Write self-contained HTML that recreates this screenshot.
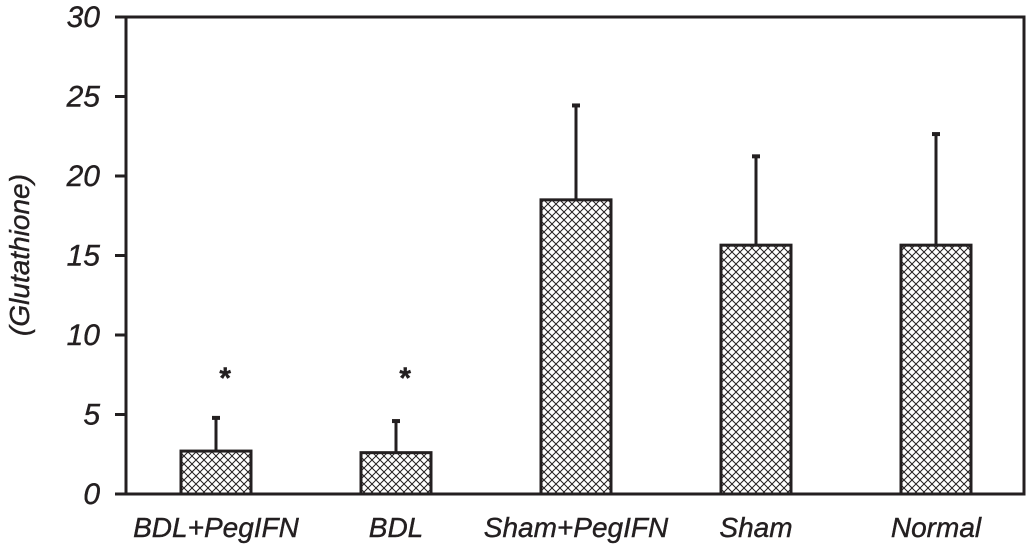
<!DOCTYPE html>
<html><head><meta charset="utf-8"><style>
html,body{margin:0;padding:0;background:#fff;}
svg text{font-family:"Liberation Sans",sans-serif;font-style:italic;fill:#231f20;stroke:#231f20;stroke-width:0.4;}
</style></head><body>
<svg id="chart" width="1029" height="547" viewBox="0 0 1029 547" xmlns="http://www.w3.org/2000/svg">
<defs>
<pattern id="hatch" patternUnits="userSpaceOnUse" width="8" height="8">
<path d="M0,0 L8,8 M8,0 L0,8" stroke="#231f20" stroke-width="1"/>
</pattern>
</defs>
<g id="plot"></g>
</svg>
<script>
const categories = ["BDL+PegIFN","BDL","Sham+PegIFN","Sham","Normal"];
const values = [2.7, 2.6, 18.5, 15.65, 15.65];
const errors = [2.15, 2.05, 6.0, 5.65, 7.05];
const significant = [true, true, false, false, false];
const yTicks = [0,5,10,15,20,25,30];

const NS = "http://www.w3.org/2000/svg";
const g = document.getElementById('plot');
const L=126, R=1024, T=17, B=494, yMax=30;
const band = 180, barW = 70;
function y(v){ return B - (v/yMax)*(B-T); }
function xc(i){ return L + band*(i+0.5); }
function mk(tag, attrs, parent){ const e=document.createElementNS(NS,tag); for(const k in attrs) e.setAttribute(k,attrs[k]); (parent||g).appendChild(e); return e; }

const frame = mk('rect',{x:L,y:T,width:R-L,height:B-T,fill:'none',stroke:'#231f20','stroke-width':3});



yTicks.forEach(v=>{
  const t = mk('line',{x1:L-11,x2:L,y1:y(v),y2:y(v),stroke:'#231f20','stroke-width':3});
  
  
  const lb = mk('text',{x:100,y:y(v)+10,'text-anchor':'end','font-size':30});
  lb.textContent = v;
  
  
});

categories.forEach((c,i)=>{
  const cx = xc(i);
  const top = y(values[i]);
  const eTop = y(values[i]+errors[i]);
  const el = mk('line',{x1:cx,x2:cx,y1:top,y2:eTop,stroke:'#231f20','stroke-width':3});
  
  
  const cap = mk('line',{x1:cx-4,x2:cx+4,y1:eTop+1,y2:eTop+1,stroke:'#231f20','stroke-width':4});
  
  
  const bar = mk('rect',{x:cx-barW/2,y:top,width:barW,height:B-top,fill:'url(#hatch)',stroke:'#231f20','stroke-width':3});
  
  
  const lb = mk('text',{x:cx,y:537,'text-anchor':'middle','font-size':28});
  lb.textContent = c;
  
  
  if(significant[i]){
    const s = mk('text',{x:cx+8,y:388,'text-anchor':'middle','font-size':30,'font-style':'normal','font-weight':'bold'});
    s.textContent='*';
    
    
  }
});

const yt = mk('text',{x:0,y:0,'text-anchor':'middle','font-size':28,transform:'translate(29,255) rotate(-90)'});
yt.textContent='(Glutathione)';


</script>
</body></html>
